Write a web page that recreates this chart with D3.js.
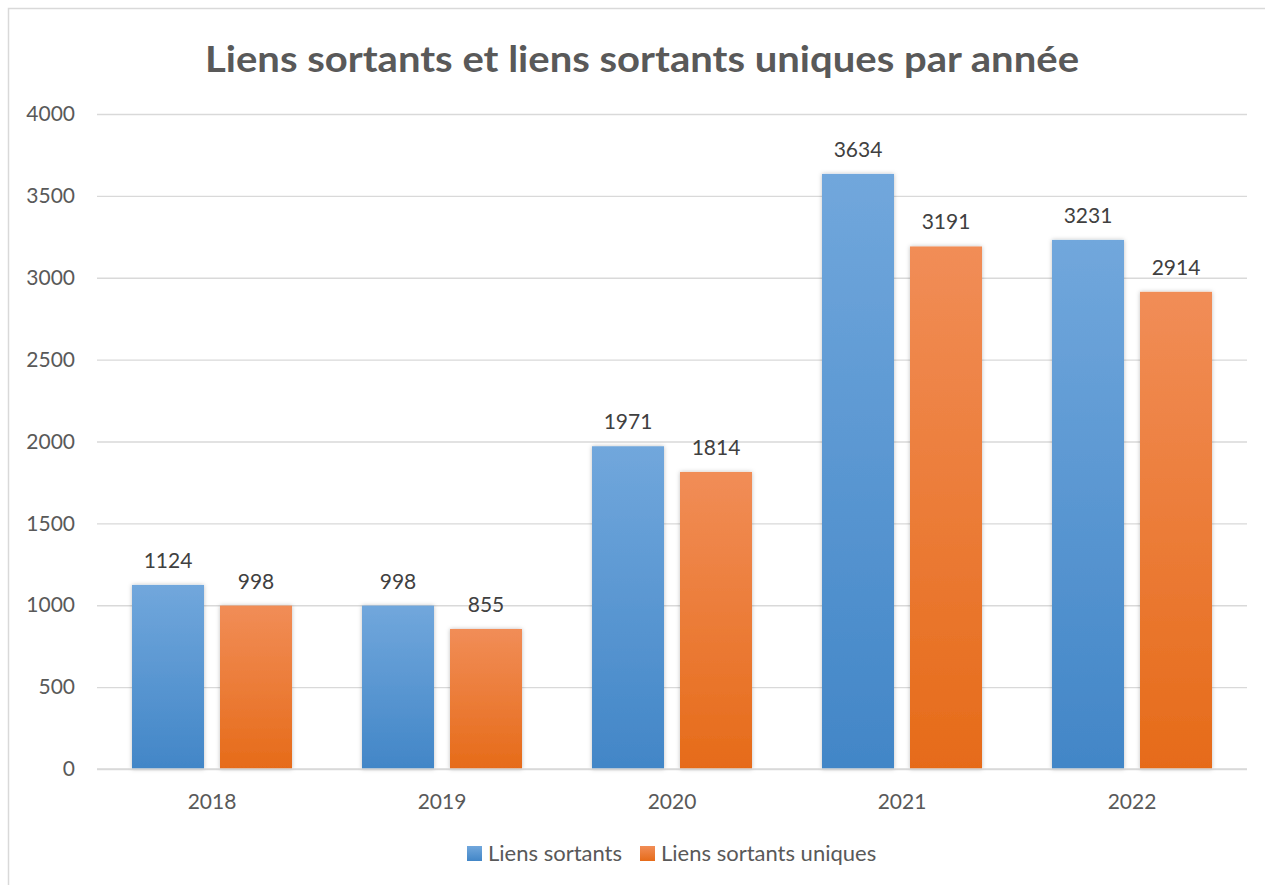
<!DOCTYPE html>
<html><head><meta charset="utf-8">
<script src="https://cdn.jsdelivr.net/npm/d3@7/dist/d3.min.js"></script>
<style>body{margin:0;background:#fff}svg{display:block}text{font-family:Lato,"Open Sans",sans-serif}</style>
</head><body>
<script>
const categories = ["2018","2019","2020","2021","2022"];
const seriesNames = ["Liens sortants","Liens sortants uniques"];
const liensSortants = [1124, 998, 1971, 3634, 3231];
const liensUniques = [998, 855, 1814, 3191, 2914];
const yTicks = [0,500,1000,1500,2000,2500,3000,3500,4000];

const W=1265,H=885;
const FS=21;
const svg=d3.select("body").append("svg").attr("width",W).attr("height",H);
const defs=svg.append("defs");
function grad(id,top,bottom){
  const g=defs.append("linearGradient").attr("id",id).attr("x1",0).attr("y1",0).attr("x2",0).attr("y2",1);
  g.append("stop").attr("offset","0%").attr("stop-color",top);
  g.append("stop").attr("offset","100%").attr("stop-color",bottom);
}
grad("gBlue","#71a7dc","#4286c7");
grad("gOrange","#f18d57","#e66b19");
const f=defs.append("filter").attr("id","sh").attr("x","-20%").attr("y","-20%").attr("width","140%").attr("height","140%");
f.append("feDropShadow").attr("dx",0).attr("dy",0).attr("stdDeviation",2).attr("flood-color","#000").attr("flood-opacity",0.25);

svg.append("rect").attr("x",8.5).attr("y",8.5).attr("width",1300).attr("height",1000).attr("fill","#fff").attr("stroke","#d9d9d9").attr("stroke-width",1.5);

const m={l:97,r:1247,t:114,b:769};
const y=d3.scaleLinear().domain([0,4000]).range([m.b,m.t]);
const x0=d3.scaleBand().domain(categories).range([m.l,m.r]).paddingInner(70/230).paddingOuter(35/230);
const x1=d3.scaleBand().domain(seriesNames).range([0,x0.bandwidth()]).paddingInner(16/88);

const yAxis=d3.axisLeft(y).tickValues(yTicks).tickFormat(d3.format("d")).tickSize(-(m.r-m.l)).tickPadding(22);
const ga=svg.append("g").attr("transform",`translate(${m.l},0)`).call(yAxis);
ga.select(".domain").remove();
ga.selectAll(".tick line").attr("stroke","#d9d9d9").attr("stroke-width",1.3);
ga.selectAll(".tick text").attr("fill","#595959").attr("font-size",FS).attr("font-family","Lato,'Open Sans',sans-serif");

const data=categories.map((c,i)=>({c,vals:[{s:seriesNames[0],v:liensSortants[i]},{s:seriesNames[1],v:liensUniques[i]}]}));
const fills={[seriesNames[0]]:"url(#gBlue)",[seriesNames[1]]:"url(#gOrange)"};
const groups=svg.selectAll(".grp").data(data).enter().append("g").attr("transform",d=>`translate(${x0(d.c)},0)`);
groups.selectAll("rect").data(d=>d.vals).enter().append("rect")
  .attr("x",d=>x1(d.s)).attr("width",x1.bandwidth())
  .attr("y",d=>y(d.v)).attr("height",d=>y(0)-y(d.v))
  .attr("fill",d=>fills[d.s]).attr("filter","url(#sh)");
groups.selectAll("text").data(d=>d.vals).enter().append("text")
  .attr("x",d=>x1(d.s)+x1.bandwidth()/2).attr("y",d=>y(d.v)-17)
  .attr("text-anchor","middle").attr("font-size",FS).attr("fill","#404040").text(d=>d.v);

svg.append("line").attr("x1",m.l).attr("x2",m.r).attr("y1",m.b).attr("y2",m.b).attr("stroke","#d9d9d9").attr("stroke-width",1.5);
const xa=svg.append("g").attr("transform",`translate(0,${m.b})`).call(d3.axisBottom(x0).tickSize(0).tickPadding(25));
xa.select(".domain").remove();
xa.selectAll(".tick text").attr("fill","#595959").attr("font-size",FS).attr("font-family","Lato,'Open Sans',sans-serif");

svg.append("text").attr("x",642).attr("y",72).attr("text-anchor","middle").attr("font-size",37).attr("font-weight","bold")
  .attr("fill","#595959").attr("textLength",874).attr("lengthAdjust","spacingAndGlyphs").text("Liens sortants et liens sortants uniques par année");

const legend=[{n:seriesNames[0],x:467},{n:seriesNames[1],x:640}];
const lg=svg.selectAll(".lg").data(legend).enter().append("g");
lg.append("rect").attr("x",d=>d.x).attr("y",846).attr("width",15).attr("height",15).attr("fill",(d,i)=>i?"url(#gOrange)":"url(#gBlue)");
lg.append("text").attr("x",d=>d.x+21).attr("y",861).attr("font-size",22).attr("fill","#595959").text(d=>d.n);
</script>
</body></html>
